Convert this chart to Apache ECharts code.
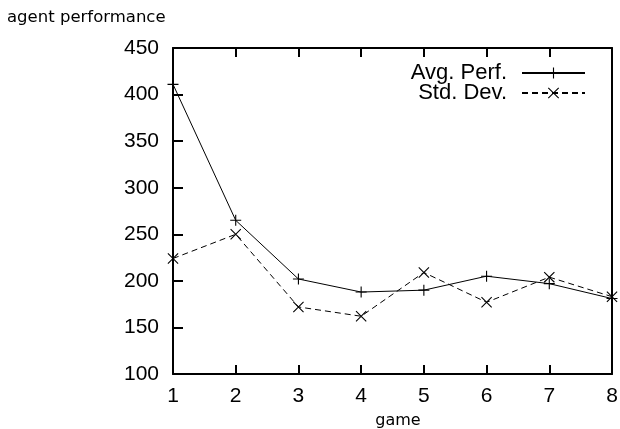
<!DOCTYPE html>
<html><head><meta charset="utf-8">
<script src="https://cdn.jsdelivr.net/npm/echarts@6/dist/echarts.min.js"></script>
<style>html,body{margin:0;padding:0;background:#fff}#c{width:620px;height:429px}</style>
</head><body><div id="c"></div>
<script>
const games = [1, 2, 3, 4, 5, 6, 7, 8];
const avgPerf = [411, 265, 202, 188, 190, 205, 197, 181];
const stdDev = [224, 250, 172, 162, 209, 177, 204, 183];
const yTicks = [100, 450, 50];

const plusPath = 'path://M9,0 L11,0 L11,9 L20,9 L20,11 L11,11 L11,20 L9,20 L9,11 L0,11 L0,9 L9,9 Z';
const crossPath = 'path://M0,1.4 L1.4,0 L20,18.6 L18.6,20 Z M18.6,0 L20,1.4 L1.4,20 L0,18.6 Z';
const font = '"Liberation Sans", Arial, sans-serif';
const sans = '"DejaVu Sans", sans-serif';

const chart = echarts.init(document.getElementById('c'), null, {renderer: 'canvas'});
chart.setOption({
  animation: false,
  backgroundColor: '#fff',
  title: {text: 'agent performance', left: 2, top: 4,
    textStyle: {fontFamily: sans, fontSize: 16.5, fontWeight: 'normal', color: '#000'}},
  grid: {left: 173, right: 8, top: 48, bottom: 55, containLabel: false, outerBoundsMode: 'none'},
  legend: {
    orient: 'vertical', right: 29, top: 57, align: 'right',
    itemWidth: 63, itemHeight: 14, itemGap: -2,
    textStyle: {fontFamily: font, fontSize: 22, color: '#000', padding: [0, 10, 0, 0]},
    data: ['Avg. Perf.', 'Std. Dev.']
  },
  xAxis: [{
    type: 'value', min: 1, max: 8, interval: 1,
    name: 'game', nameLocation: 'middle', nameGap: 39,
    nameTextStyle: {fontFamily: sans, fontSize: 16, color: '#000', padding: [0, 0, 0, 11]},
    axisLine: {lineStyle: {color: '#000', width: 2}},
    axisTick: {inside: true, length: 9, lineStyle: {color: '#000', width: 2}},
    axisLabel: {fontFamily: font, fontSize: 21, color: '#000', margin: 12},
    splitLine: {show: false}
  }, {
    type: 'value', min: 1, max: 8, interval: 1, position: 'top',
    axisLine: {show: true, lineStyle: {color: '#000', width: 2}},
    axisTick: {show: true, inside: true, length: 9, lineStyle: {color: '#000', width: 2}},
    axisLabel: {show: false}, splitLine: {show: false}
  }],
  yAxis: [{
    type: 'value', min: yTicks[0], max: yTicks[1], interval: yTicks[2],
    axisLine: {show: true, lineStyle: {color: '#000', width: 2}},
    axisTick: {show: true, inside: true, length: 10, lineStyle: {color: '#000', width: 2}},
    axisLabel: {fontFamily: font, fontSize: 21, color: '#000', margin: 14},
    splitLine: {show: false}
  }, {
    type: 'value', min: yTicks[0], max: yTicks[1], interval: yTicks[2], position: 'right',
    axisLine: {show: true, lineStyle: {color: '#000', width: 2}},
    axisTick: {show: false}, axisLabel: {show: false}, splitLine: {show: false}
  }],
  series: [{
    name: 'Avg. Perf.', type: 'line',
    data: games.map((g, i) => [g, avgPerf[i]]),
    symbol: plusPath, symbolSize: 11, clip: false,
    lineStyle: {color: '#000', width: 1},
    itemStyle: {color: '#000'}
  }, {
    name: 'Std. Dev.', type: 'line',
    data: games.map((g, i) => [g, stdDev[i]]),
    symbol: crossPath, symbolSize: 11, clip: false,
    lineStyle: {color: '#000', width: 1, type: [6, 4]},
    itemStyle: {color: '#000'}
  }]
});
</script></body></html>
